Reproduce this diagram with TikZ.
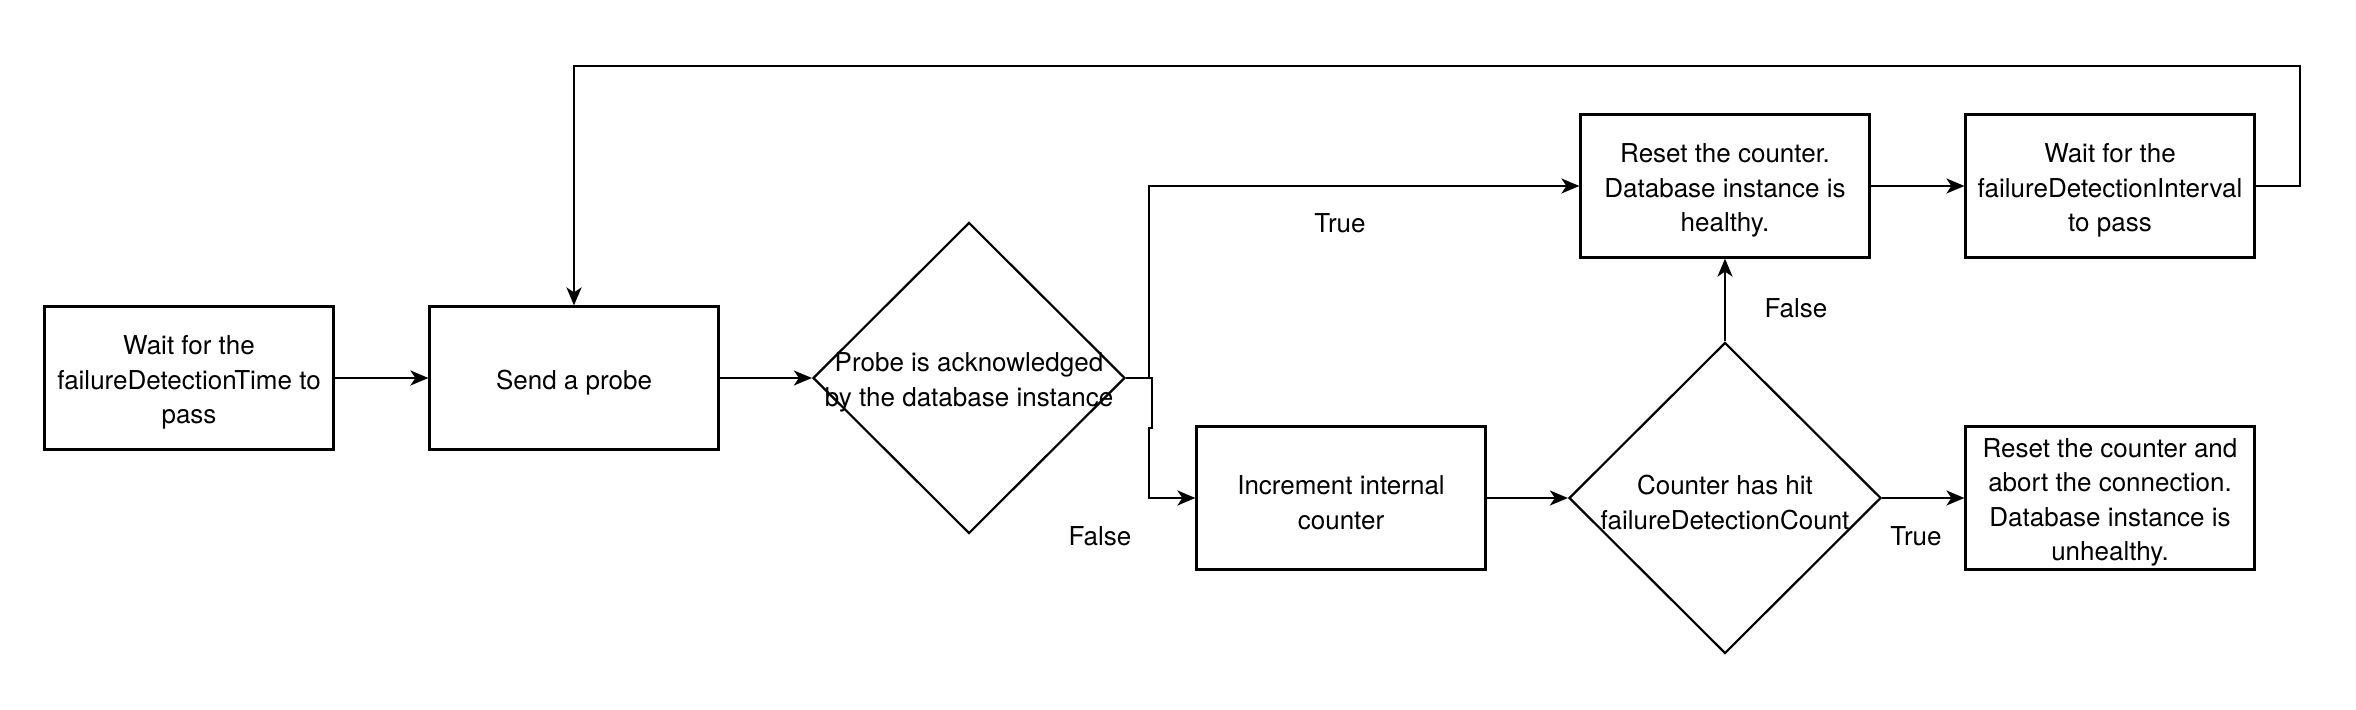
\documentclass[tikz,border=0pt]{standalone}
\usepackage{fontspec}
\setmainfont{TeX Gyre Heros}
\usetikzlibrary{shapes.geometric,arrows.meta}
\begin{document}
\begin{tikzpicture}[x=0.5pt,y=-0.5pt,
  every node/.style={font=\fontsize{13}{17.25}\selectfont},
  procbox/.style={draw,line width=1.1pt,rectangle,inner sep=0pt,minimum width=144.5pt,minimum height=71.5pt},
  decision/.style={draw,line width=1.1pt,diamond,inner sep=0pt,minimum width=156pt,minimum height=155.5pt},
  boxtext/.style={align=center,inner sep=0pt,yshift=-2.25pt},
  lbl/.style={inner sep=0pt},
  conn/.style={line width=1.1pt,-{Stealth[length=9pt,width=7.5pt,inset=2.5pt]}}]
\useasboundingbox (0,0) rectangle (2356,710);
\node[procbox,label={[boxtext]center:{Wait for the\\failureDetectionTime to\\pass}}] (a) at (189,378) {};
\node[procbox,label={[boxtext]center:{Send a probe}}] (b) at (574,378) {};
\node[decision,label={[boxtext]center:{Probe is acknowledged\\by the database instance}}] (d1) at (969,378) {};
\node[procbox,label={[boxtext]center:{Increment internal\\counter}}] (c) at (1341,498) {};
\node[decision,label={[boxtext]center:{Counter has hit\\failureDetectionCount}}] (d2) at (1725,498) {};
\node[procbox,label={[boxtext]center:{Reset the counter.\\Database instance is\\healthy.}}] (e) at (1725,186) {};
\node[procbox,label={[boxtext]center:{Wait for the\\failureDetectionInterval\\to pass}}] (f) at (2110,186) {};
\node[procbox,label={[boxtext]center:{Reset the counter and\\abort the connection.\\Database instance is\\unhealthy.}}] (g) at (2110,498) {};
\coordinate (j1) at (1149,378);
\coordinate (j2) at (1152,378);
\coordinate (j3) at (1152,428);
\coordinate (j4) at (1149,428);
\coordinate (l1) at (2300,66);
\draw[conn] (a) -- (b);
\draw[conn] (b) -- (d1.west);
\draw[conn] (d1.east) -- (j1) |- (e.west);
\draw[conn] (d1.east) -- (j2) -- (j3) -- (j4) |- (c.west);
\draw[conn] (c) -- (d2.west);
\draw[conn] (d2.north) -- (e.south);
\draw[conn] (d2.east) -- (g.west);
\draw[conn] (e) -- (f);
\draw[conn] (f.east) -| (l1) -| (b.north);
\node[lbl] (t1) at (1340,223) {True};
\node[lbl] (f1) at (1100,536) {False};
\node[lbl] (f2) at (1796,308) {False};
\node[lbl] (t2) at (1916,536) {True};
\end{tikzpicture}
\end{document}
